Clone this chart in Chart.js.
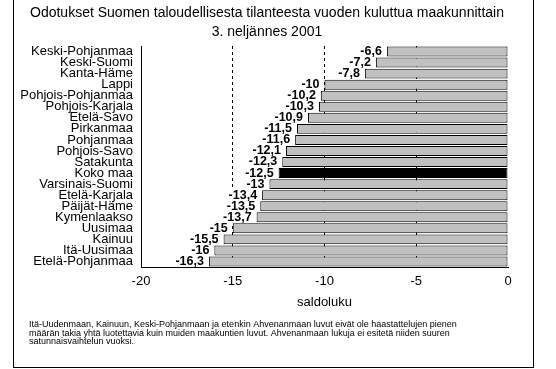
<!DOCTYPE html>
<html>
<head>
<meta charset="utf-8">
<script src="https://cdn.jsdelivr.net/npm/chart.js@4"></script>
<style>
  html, body { margin: 0; padding: 0; background: #fff; }
  canvas { display: block; }
</style>
</head>
<body>
<canvas id="myChart" width="556" height="369"></canvas>
<script>
// data
var regions = ['Keski-Pohjanmaa', 'Keski-Suomi', 'Kanta-Häme', 'Lappi', 'Pohjois-Pohjanmaa',
  'Pohjois-Karjala', 'Etelä-Savo', 'Pirkanmaa', 'Pohjanmaa', 'Pohjois-Savo', 'Satakunta',
  'Koko maa', 'Varsinais-Suomi', 'Etelä-Karjala', 'Päijät-Häme', 'Kymenlaakso', 'Uusimaa',
  'Kainuu', 'Itä-Uusimaa', 'Etelä-Pohjanmaa'];
var saldo = [-6.6, -7.2, -7.8, -10, -10.2, -10.3, -10.9, -11.5, -11.6, -12.1, -12.3,
  -12.5, -13, -13.4, -13.5, -13.7, -15, -15.5, -16, -16.3];
var xMin = -20, xMax = 0, xStep = 5;
var highlight = 'Koko maa';
var titleLines = ['Odotukset Suomen taloudellisesta tilanteesta vuoden kuluttua maakunnittain',
  '3. neljännes 2001'];
var axisTitle = 'saldoluku';
var noteLines = [
  'Itä-Uudenmaan, Kainuun, Keski-Pohjanmaan ja etenkin Ahvenanmaan luvut eivät ole haastattelujen pienen',
  'määrän takia yhtä luotettavia kuin muiden maakuntien luvut. Ahvenanmaan lukuja ei esitetä niiden suuren',
  'satunnaisvaihtelun vuoksi.'
];

var FONT = '"Liberation Sans", Arial, sans-serif';

// frame, title and footnote
var framePlugin = {
  id: 'pageFrame',
  beforeDraw: function(chart) {
    var c = chart.ctx;
    c.save();
    c.fillStyle = '#fff';
    c.fillRect(0, 0, chart.width, chart.height);
    c.restore();
  },
  afterDraw: function(chart) {
    var c = chart.ctx;
    c.save();
    c.setLineDash([]);
    c.fillStyle = '#000';
    // box round the whole figure (top edge is off the page)
    c.fillRect(13, 0, 1, 368);
    c.fillRect(533, 0, 1, 368);
    c.fillRect(13, 367, 521, 1);
    c.textAlign = 'center';
    c.textBaseline = 'middle';
    c.font = '14px ' + FONT;
    c.fillText(titleLines[0], 267, 13);
    c.fillText(titleLines[1], 267, 32);
    c.textAlign = 'left';
    c.font = '9px ' + FONT;
    noteLines.forEach(function(t, i) {
      c.fillText(t, 29, 325 + i * 8.5);
    });
    c.restore();
  }
};

// value labels left of each bar
var valueLabels = {
  id: 'valueLabels',
  afterDatasetsDraw: function(chart) {
    var c = chart.ctx;
    var bars = chart.getDatasetMeta(0).data;
    c.save();
    c.font = 'bold 12.5px ' + FONT;
    c.textAlign = 'right';
    c.textBaseline = 'middle';
    var items = bars.map(function(bar, i) {
      var txt = String(saldo[i]).replace('.', ',');
      return { txt: txt, x: bar.x - 5, y: bar.y, w: c.measureText(txt).width };
    });
    c.fillStyle = '#fff';
    items.forEach(function(it) { c.fillRect(it.x - it.w - 1, it.y - 5.5, it.w + 2, 11); });
    c.fillStyle = '#000';
    items.forEach(function(it) { c.fillText(it.txt, it.x, it.y); });
    c.restore();
  }
};

var ctx = document.getElementById('myChart').getContext('2d');
var myChart = new Chart(ctx, {
  type: 'bar',
  data: {
    labels: regions,
    datasets: [{
      data: saldo,
      backgroundColor: regions.map(function(r) { return r === highlight ? '#000' : '#c0c0c0'; }),
      borderColor: '#000',
      borderWidth: 1,
      borderSkipped: false,
      categoryPercentage: 1,
      barPercentage: 0.9
    }]
  },
  options: {
    indexAxis: 'y',
    responsive: false,
    animation: false,
    layout: { padding: { top: 46, right: 48, left: 0, bottom: 0 } },
    plugins: {
      legend: { display: false },
      title: { display: false },
      tooltip: { enabled: false }
    },
    scales: {
      x: {
        min: xMin,
        max: xMax,
        afterFit: function(s) { s.height = 102; },
        ticks: { stepSize: xStep, color: '#000', padding: 7, font: { family: FONT, size: 13 } },
        grid: {
          drawTicks: false,
          color: function(ctx) { return ctx.tick && (ctx.tick.value === xMax || ctx.tick.value === xMin) ? 'rgba(0,0,0,0)' : '#000'; }
        },
        border: { display: true, color: '#000', width: 1, dash: [3, 3] },
        title: { display: true, text: axisTitle, color: '#000', font: { family: FONT, size: 13 }, padding: { top: 0, bottom: 59 } }
      },
      y: {
        afterFit: function(s) { s.width = 141; },
        ticks: { color: '#000', padding: 8, autoSkip: false, font: { family: FONT, size: 13 } },
        grid: { display: false, drawTicks: false },
        border: { display: true, color: '#000', width: 1 }
      }
    }
  },
  plugins: [framePlugin, valueLabels]
});
</script>
</body>
</html>
